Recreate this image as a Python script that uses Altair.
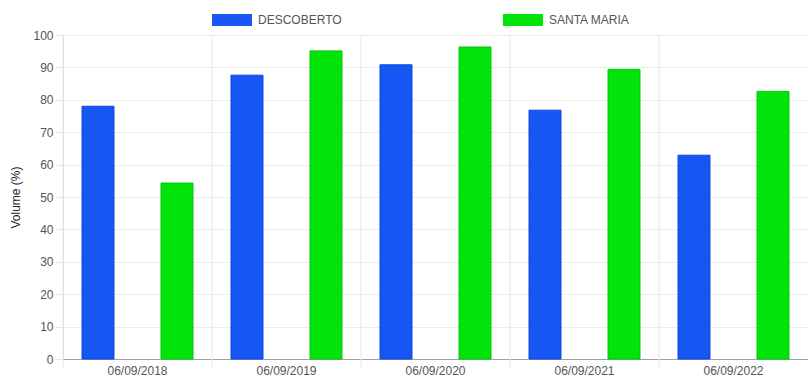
import altair as alt
import pandas as pd

dates = ["06/09/2018", "06/09/2019", "06/09/2020", "06/09/2021", "06/09/2022"]
series = ["DESCOBERTO", "SANTA MARIA"]
descoberto = [78.0, 87.6, 90.8, 76.8, 62.9]
santa_maria = [54.3, 95.1, 96.3, 89.4, 82.6]
y_ticks = list(range(0, 101, 10))

rows = []
for i, d in enumerate(dates):
    rows.append({"data": d, "serie": series[0], "volume": descoberto[i]})
    rows.append({"data": d, "serie": series[1], "volume": santa_maria[i]})
df = pd.DataFrame(rows)

W, H = 745, 324
FONT = "Liberation Sans"
BLUE, BLUE_B = "#1656f2", "#0c46e0"
GREEN, GREEN_B = "#00e40a", "#00c808"

xscale = alt.Scale(paddingInner=0, paddingOuter=0)
xaxis = alt.Axis(title=None, labelAngle=0, ticks=False, grid=False, domainColor="#a0a0a0",
                 labelFontSize=12, labelColor="#555555", labelPadding=6, labelFont=FONT)

grid = alt.Chart(pd.DataFrame({"data": dates})).mark_rule(color="#e6e6e6", strokeWidth=1).encode(
    x=alt.X("data:N", sort=dates, scale=xscale, bandPosition=0, axis=xaxis),
    y=alt.value(0),
    y2=alt.value(H + 8),
)

bars = alt.Chart(df).mark_bar(strokeWidth=1).encode(
    x=alt.X("data:N", sort=dates, scale=xscale, axis=xaxis),
    xOffset=alt.XOffset("serie:N", sort=series,
                        scale=alt.Scale(paddingInner=0.595, paddingOuter=0.2405)),
    y=alt.Y("volume:Q", scale=alt.Scale(domain=[0, 100], nice=False),
            axis=alt.Axis(title="Volume (%)", values=y_ticks, domain=False,
                          gridColor="#ececec", tickColor="#e6e6e6", tickSize=8,
                          labelPadding=2, labelFontSize=12, labelColor="#555555",
                          labelFont=FONT, titleFont=FONT, titleFontSize=12,
                          titleFontWeight="normal", titleColor="#222222", titlePadding=10)),
    color=alt.Color("serie:N", scale=alt.Scale(domain=series, range=[BLUE, GREEN]),
                    legend=alt.Legend(title=None, orient="none", legendX=149, legendY=-35,
                                      direction="horizontal", columns=2, columnPadding=161,
                                      symbolType="M-1,-0.3L1,-0.3L1,0.3L-1,0.3Z",
                                      symbolSize=1600, symbolStrokeWidth=0, symbolOpacity=1,
                                      labelFont=FONT, labelFontSize=12, labelColor="#555555",
                                      labelOffset=6)),
    stroke=alt.Stroke("serie:N", scale=alt.Scale(domain=series, range=[BLUE_B, GREEN_B]), legend=None),
)

chart = alt.layer(grid, bars).properties(
    width=W, height=H,
    autosize=alt.AutoSizeParams(type="none"),
    padding={"left": 63, "top": 35, "right": 0, "bottom": 17},
).configure_view(stroke=None).configure(background="white")

chart.save("out.html", embed_options={"renderer": "svg", "actions": False})
